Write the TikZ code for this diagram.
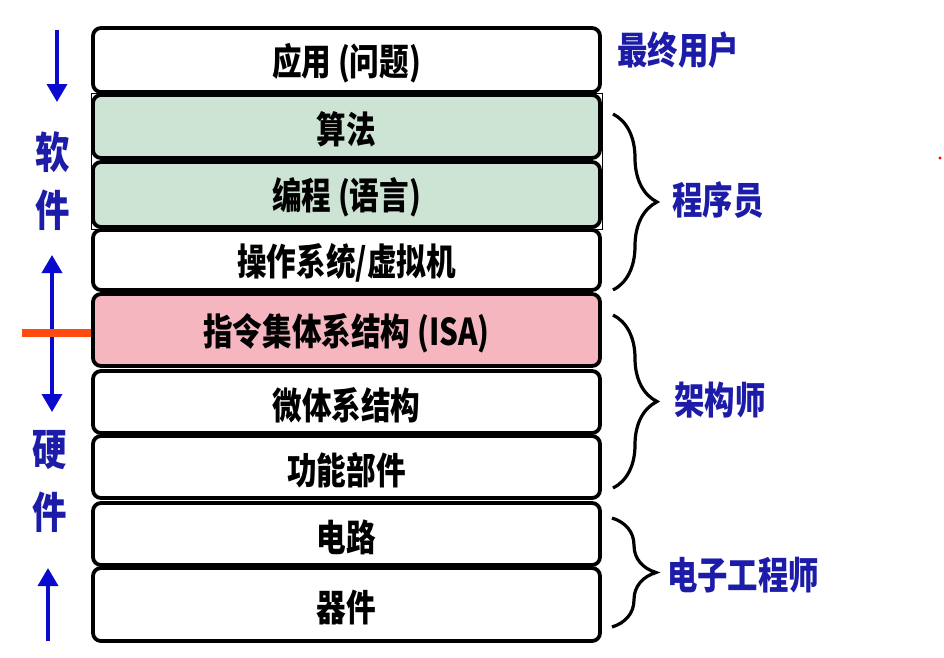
\documentclass[tikz,border=0pt]{standalone}
\usepackage{fontspec}
\usepackage{graphicx}
\setmainfont{Noto Sans CJK SC}
\usetikzlibrary{arrows.meta,decorations.pathreplacing}
\definecolor{layergreen}{HTML}{CDE3D4}
\definecolor{layerpink}{HTML}{F6B6C0}
\definecolor{labelblue}{HTML}{1C1CA8}
\definecolor{arrowblue}{HTML}{0A0ACF}
\definecolor{isared}{HTML}{FF4A10}
\newcommand{\narrowtext}[1]{\scalebox{0.8}[1]{#1}}
\newcommand{\layertext}[1]{\raisebox{-3pt}[\height][\depth]{\scalebox{0.8}[1]{#1}}}
\tikzset{
  layer/.style={draw=black, line width=3.8pt, rounded corners=8pt, fill=white,
    minimum width=507pt, inner sep=0pt, font=\bfseries\fontsize{37}{40}\selectfont},
  role/.style={text=labelblue, font=\bfseries\fontsize{38}{40}\selectfont, inner sep=0pt},
  side/.style={text=labelblue, font=\bfseries\fontsize{43}{45}\selectfont, inner sep=0pt},
  flow/.style={draw=arrowblue, fill=arrowblue, line width=3.6pt,
    >={Triangle[width=20pt,length=18pt]}},
  bracestyle/.style={draw=black, line width=3.2pt,
    decorate, decoration={brace, amplitude=44pt, aspect=0.5}}
}
\begin{document}
\begin{tikzpicture}[x=1pt,y=-1pt]
\useasboundingbox (0,0) rectangle (944,657);
% layers
\node[layer, minimum height=64pt] (app) at (346.5,60) {\layertext{应用 (问题)}};
\node[layer, fill=layergreen, minimum height=63pt] (alg) at (346.5,126.5) {\layertext{算法}};
\node[layer, fill=layergreen, minimum height=65pt] (prog) at (346.5,194.5) {\layertext{编程 (语言)}};
\node[layer, minimum height=60pt] (os) at (346.5,260) {\layertext{操作系统/虚拟机}};
\node[layer, fill=layerpink, minimum height=72pt] (isa) at (346.5,330) {\layertext{指令集体系结构 (ISA)}};
\node[layer, minimum height=62pt] (micro) at (346.5,402) {\layertext{微体系结构}};
\node[layer, minimum height=62pt] (func) at (346.5,467) {\layertext{功能部件}};
\node[layer, minimum height=62pt] (circ) at (346.5,534) {\layertext{电路}};
\node[layer, minimum height=73pt] (dev) at (346.5,604.5) {\layertext{器件}};
\draw[line width=0.8pt] (alg.north west) rectangle (prog.south east);
% left side
\coordinate (swtop) at (57,30);
\coordinate (swbot) at (57,102);
\coordinate (midtop) at (52,255);
\coordinate (midbot) at (52,412);
\coordinate (hwtop) at (48,568);
\coordinate (hwbot) at (48,641);
\coordinate (redstart) at (22,333);
\draw[flow, ->] (swtop) -- (swbot);
\draw[flow, <->] (midtop) -- (midbot);
\draw[flow, ->] (hwbot) -- (hwtop);
\draw[draw=isared, line width=8pt] (redstart) -- (isa.west |- redstart);
\node[side] (ruan) at (53,152) {\narrowtext{软}};
\node[side] (jian1) at (53,210) {\narrowtext{件}};
\node[side] (ying) at (50,450) {\narrowtext{硬}};
\node[side] (jian2) at (50,512) {\narrowtext{件}};
% braces
\coordinate (pbt) at (613,114);
\coordinate (pbb) at (613,290);
\coordinate (abt) at (613,315);
\coordinate (abb) at (613,488);
\coordinate (ebt) at (612,518);
\coordinate (ebb) at (612,627);
\draw[bracestyle] (pbt) -- (pbb);
\draw[bracestyle] (abt) -- (abb);
\draw[bracestyle] (ebt) -- (ebb);
% role labels
\node[role] (user) at (678,50) {\narrowtext{最终用户}};
\node[role] (programmer) at (718,200) {\narrowtext{程序员}};
\node[role] (architect) at (720,400) {\narrowtext{架构师}};
\node[role] (ee) at (743,575) {\narrowtext{电子工程师}};
\fill[red] (940,158) circle (1.6pt);
\end{tikzpicture}
\end{document}
